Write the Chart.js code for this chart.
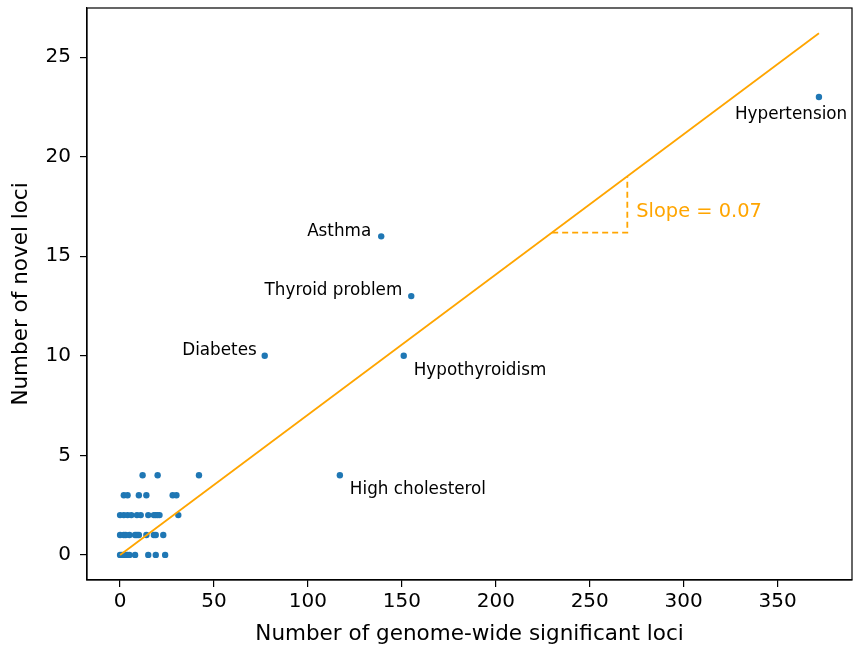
<!DOCTYPE html>
<html>
<head>
<meta charset="utf-8">
<script src="https://cdn.jsdelivr.net/npm/chart.js@4/dist/chart.umd.min.js"></script>
<style>
  html, body { margin: 0; padding: 0; background: #fff; }
  #wrap { width: 853px; height: 648px; overflow: hidden; }
</style>
</head>
<body>
<div id="wrap"><canvas id="chart" width="856" height="648"></canvas></div>
<script>
// unlabeled traits, by number of novel loci
const gwsLoci0 = [0, 1, 2, 3, 4, 5, 8, 15, 19, 24];
const gwsLoci1 = [0, 2, 3, 5, 8, 9, 10, 14, 18, 19, 23];
const gwsLoci2 = [0, 2, 4, 6, 9, 11, 15, 18, 19, 20, 21, 31];
const gwsLoci3 = [2, 4, 10, 14, 28, 30];
const gwsLoci4 = [12, 20, 42];

// labeled traits
const namedTraits = ['Hypertension', 'Asthma', 'Thyroid problem', 'Diabetes', 'Hypothyroidism', 'High cholesterol'];
const namedGws = [372, 139, 155, 77, 151, 117];
const namedNovel = [23, 16, 13, 10, 10, 4];

// fit line and slope triangle
const fitX = [0, 372];
const fitY = [0, 26.2];
const triX = [230, 270, 270];
const triY = [16.19, 16.19, 19.0];
const slopeText = 'Slope = 0.07';

const xTicks = [0, 50, 100, 150, 200, 250, 300, 350];
const yTicks = [0, 5, 10, 15, 20, 25];

const blue = '#1f77b4';
const orange = '#ffa500';
const font = 'DejaVu Sans';

const scatterPts = [];
[gwsLoci0, gwsLoci1, gwsLoci2, gwsLoci3, gwsLoci4].forEach((row, n) => {
    row.forEach(x => scatterPts.push({ x: x, y: n }));
});
namedGws.forEach((x, i) => scatterPts.push({ x: x, y: namedNovel[i] }));

// label offsets in pixels from the point [dx, dy, align]
const labelOffsets = [[-84, 18, 'left'], [-10, -5, 'right'], [-9, -5, 'right'], [-8, -5, 'right'], [10, 15, 'left'], [10, 14, 'left']];

const annotate = {
    id: 'annotate',
    afterDraw(chart) {
        const c = chart.ctx;
        const xs = chart.scales.x, ys = chart.scales.y;
        const a = chart.chartArea;
        c.save();
        c.strokeStyle = '#000';
        c.lineWidth = 1.2;
        c.strokeRect(a.left, a.top, a.right - a.left, a.bottom - a.top);
        c.font = '16.8px "' + font + '"';
        c.fillStyle = '#000';
        c.textBaseline = 'middle';
        namedTraits.forEach((t, i) => {
            const o = labelOffsets[i];
            c.textAlign = o[2];
            c.fillText(t, xs.getPixelForValue(namedGws[i]) + o[0], ys.getPixelForValue(namedNovel[i]) + o[1]);
        });
        c.font = '19.4px "' + font + '"';
        c.fillStyle = orange;
        c.textAlign = 'left';
        c.fillText(slopeText, xs.getPixelForValue(triX[1]) + 9, ys.getPixelForValue((triY[1] + triY[2]) / 2) + 7);
        c.restore();
    }
};

const tickFont = { family: font, size: 20 };
const titleFont = { family: font, size: 21.5 };

function noPad(axis) {
    axis.paddingTop = 0;
    axis.paddingBottom = 0;
    axis.paddingLeft = 0;
    axis.paddingRight = 0;
}

new Chart(document.getElementById('chart'), {
    type: 'scatter',
    data: {
        datasets: [
            {
                data: fitX.map((x, i) => ({ x: x, y: fitY[i] })),
                showLine: true,
                borderColor: orange,
                borderWidth: 1.8,
                pointRadius: 0
            },
            {
                data: triX.map((x, i) => ({ x: x, y: triY[i] })),
                showLine: true,
                borderColor: orange,
                borderWidth: 1.8,
                borderDash: [6, 4],
                pointRadius: 0
            },
            {
                data: scatterPts,
                backgroundColor: blue,
                borderWidth: 0,
                pointRadius: 3.2
            }
        ]
    },
    options: {
        responsive: false,
        animation: false,
        layout: { padding: { top: 8, right: 1, left: 0, bottom: 0 } },
        plugins: { legend: { display: false }, tooltip: { enabled: false } },
        scales: {
            x: {
                type: 'linear',
                min: -17.6,
                max: 389.6,
                afterBuildTicks: axis => { axis.ticks = xTicks.map(v => ({ value: v })); },
                afterFit: axis => { axis.height = 68; noPad(axis); },
                grid: { drawOnChartArea: false, drawTicks: true, tickLength: 7, color: '#000', lineWidth: 1.2 },
                border: { display: true, color: '#000', width: 1.2 },
                ticks: { color: '#000', font: tickFont, padding: 3, maxRotation: 0 },
                title: { display: true, text: 'Number of genome-wide significant loci', color: '#000', font: titleFont, padding: { top: 2, bottom: 1 } }
            },
            y: {
                type: 'linear',
                min: -1.26,
                max: 27.47,
                afterBuildTicks: axis => { axis.ticks = yTicks.map(v => ({ value: v })); },
                afterFit: axis => { axis.width = 87; noPad(axis); },
                grid: { drawOnChartArea: false, drawTicks: true, tickLength: 7, color: '#000', lineWidth: 1.2 },
                border: { display: true, color: '#000', width: 1.2 },
                ticks: { color: '#000', font: tickFont, padding: 9 },
                title: { display: true, text: 'Number of novel loci', color: '#000', font: titleFont, padding: { top: 9, bottom: 4 } }
            }
        }
    },
    plugins: [annotate]
});
</script>
</body>
</html>
